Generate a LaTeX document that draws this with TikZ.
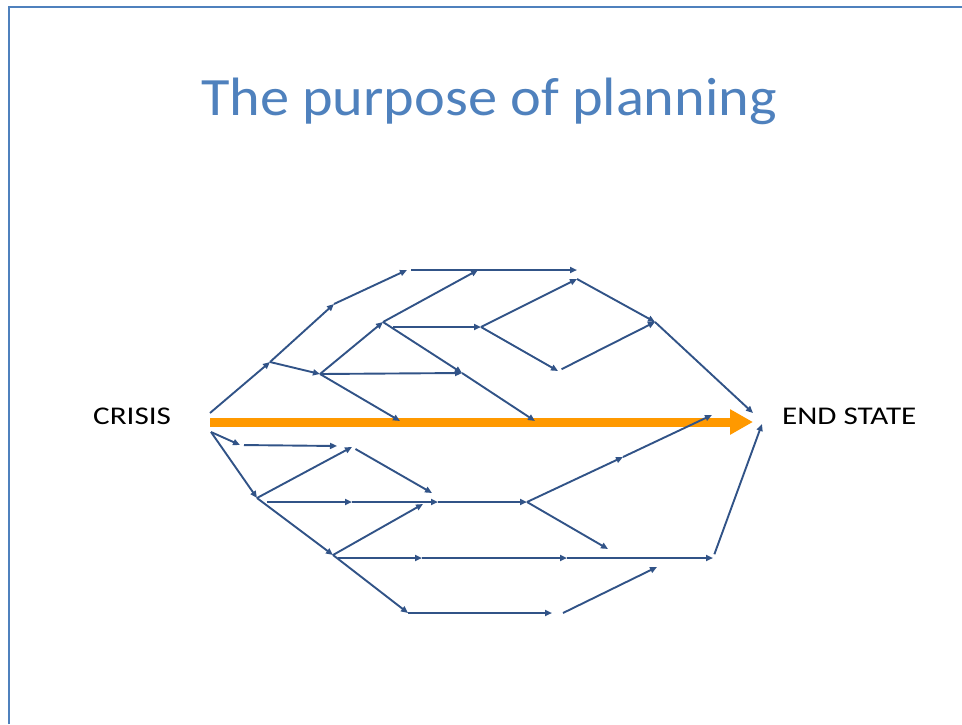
\documentclass[tikz,border=0pt]{standalone}
\usepackage{fontspec}
\setmainfont{Carlito}
\usepackage{graphicx}
\usepackage{xcolor}
\usetikzlibrary{arrows.meta,positioning}

\definecolor{titleblue}{RGB}{79,129,189}
\definecolor{pathblue}{RGB}{49,83,135}
\definecolor{crisisorange}{RGB}{255,153,0}

\begin{document}
\begin{tikzpicture}[
    x=1pt, y=-1pt,
    link/.style={draw=pathblue, line width=1.9pt, -{Triangle[length=7pt,width=6pt]}},
    gap/.style={shorten <=4pt},
    label/.style={font=\fontsize{25.5}{30}\selectfont, anchor=base west, inner sep=0pt}
]
\useasboundingbox (0,0) rectangle (962,724);

% frame and title
\draw[titleblue, line width=2pt] (8.5,724) -- (8.5,6.5) -- (962,6.5);
\node[titleblue, font=\fontsize{54}{60}\selectfont, anchor=base, inner sep=0pt] (title) at (489,115) {\scalebox{1.08}[1]{The purpose of planning}};

% end points
\node[label] (crisis) at (93,424) {\scalebox{1.22}[1]{CRISIS}};
\node[label] (endstate) at (782,424) {\scalebox{1.22}[1]{END STATE}};

% upper branches
\coordinate (c0) at (210,413);
\coordinate (u1) at (270,362);
\coordinate (u2) at (334,304);
\coordinate (u3) at (407,270);
\coordinate (u4) at (478,270);
\coordinate (u5) at (577,270);
\coordinate (u6) at (320,374);
\coordinate (u7) at (383,322);
\coordinate (u8) at (462,373);
\coordinate (u9) at (400,421);
\coordinate (u10) at (481,327);
\coordinate (u11) at (577,279);
\coordinate (u12) at (558,371);
\coordinate (u13) at (655,322);
\coordinate (u14) at (535,421);
\coordinate (eu) at (753,413);

% lower branches
\coordinate (c1) at (211,432);
\coordinate (l1) at (240,445);
\coordinate (l2) at (337,446);
\coordinate (l3) at (257,498);
\coordinate (l4) at (352,447);
\coordinate (l5) at (432,493);
\coordinate (l6) at (352,502);
\coordinate (l7) at (438,502);
\coordinate (l8) at (527,502);
\coordinate (l9) at (333,555);
\coordinate (l10) at (423,504);
\coordinate (l11) at (422,558);
\coordinate (l12) at (567,558);
\coordinate (l13) at (713,558);
\coordinate (l14) at (408,613);
\coordinate (l15) at (552,613);
\coordinate (l16) at (563,613);
\coordinate (l17) at (657,567);
\coordinate (l18) at (623,457);
\coordinate (l19) at (712,415);
\coordinate (l20) at (608,549);
\coordinate (el) at (762,424);

% main arrow
\draw[crisisorange, line width=9pt, -{Triangle[length=23pt,width=24pt]}] (210,422) -- (753,422);

\foreach \a/\b in {c0/u1, u1/u2, u2/u3, u7/u4, u1/u6, u6/u7, u6/u8, u6/u9,
                   u7/u8, u8/u14, u10/u11, u10/u12, u11/u13, u13/eu,
                   c1/l1, c1/l3, l3/l4, l6/l7, l7/l8, l3/l9, l9/l10,
                   l11/l12, l12/l13, l9/l14, l14/l15, l16/l17, l8/l18,
                   l18/l19, l8/l20}
    \draw[link] (\a) -- (\b);

\foreach \a/\b in {u3/u5, u12/u13, l1/l2, l4/l5, l13/el}
    \draw[link, gap] (\a) -- (\b);

% level runs
\draw[link, shorten <=10pt] (u7 |- u10) -- (u10);
\draw[link, shorten <=10pt] (l3 |- l6) -- (l6);
\draw[link, shorten <=5pt] (l9 |- l11) -- (l11);
\end{tikzpicture}
\end{document}
